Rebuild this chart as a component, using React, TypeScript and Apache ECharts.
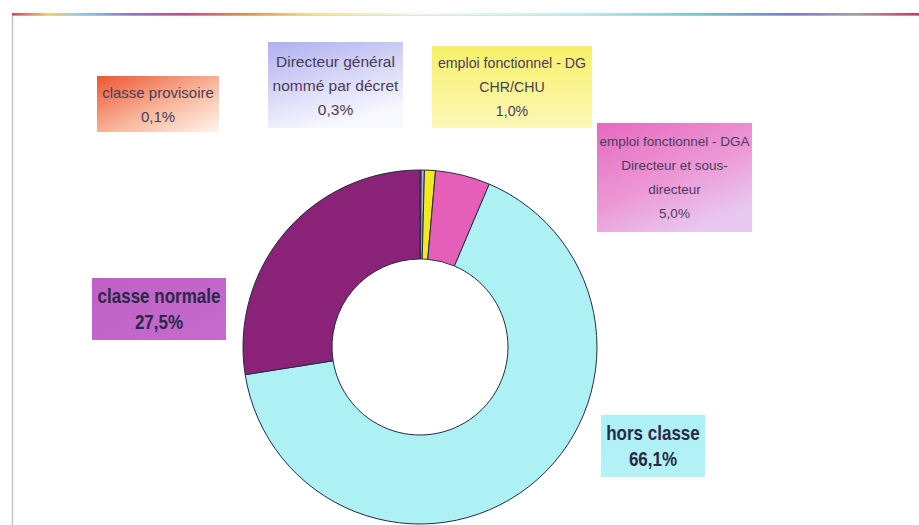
import React, { useEffect, useRef } from "react";
import * as echarts from "echarts";

const categories = [
  "classe provisoire",
  "Directeur général\nnommé par décret",
  "emploi fonctionnel - DG\nCHR/CHU",
  "emploi fonctionnel - DGA\nDirecteur et sous-\ndirecteur",
  "hors classe",
  "classe normale",
];
const values = [0.1, 0.3, 1.0, 5.0, 66.1, 27.5];
const sliceColors = ["#e8603c", "#a8a8ee", "#f2ea1e", "#e55fb8", "#aef1f4", "#8a2277"];

// label boxes layout: [x, y, w, h, bold, fontSize]
const boxLayout: [number, number, number, number, boolean, number][] = [
  [97, 76, 122, 56, false, 15],
  [268, 42, 135, 86, false, 15.5],
  [432, 46, 160, 82, false, 14.2],
  [597, 123, 155, 109, false, 13.5],
  [601, 415, 104, 62, true, 17],
  [92, 278, 134, 62, true, 17],
];
const boxFills = [
  { type: "linear", x: 0, y: 0, x2: 1, y2: 1, colorStops: [{ offset: 0, color: "#ee5532" }, { offset: 0.55, color: "#f8b89c" }, { offset: 1, color: "#fff4ee" }] },
  { type: "linear", x: 0, y: 0, x2: 0.4, y2: 1, colorStops: [{ offset: 0, color: "#aeb0f0" }, { offset: 0.6, color: "#dcdcf8" }, { offset: 1, color: "#f8f8ff" }] },
  { type: "linear", x: 0, y: 0, x2: 0, y2: 1, colorStops: [{ offset: 0, color: "#f7f068" }, { offset: 1, color: "#fcf8b8" }] },
  { type: "linear", x: 0, y: 0, x2: 0.6, y2: 1, colorStops: [{ offset: 0, color: "#e868c0" }, { offset: 0.6, color: "#ec9ad6" }, { offset: 1, color: "#e8c8f0" }] },
  { type: "linear", x: 0, y: 0, x2: 0, y2: 1, colorStops: [{ offset: 0, color: "#acf0f6" }, { offset: 1, color: "#b4f2f6" }] },
  { type: "linear", x: 0, y: 0, x2: 1, y2: 1, colorStops: [{ offset: 0, color: "#c060c6" }, { offset: 1, color: "#c46ccc" }] },
];

const fmt = (v: number) => v.toFixed(1).replace(".", ",") + "%";

export default function App() {
  const ref = useRef<HTMLDivElement>(null);
  useEffect(() => {
    if (!ref.current) return;
    const chart = echarts.init(ref.current, null, { renderer: "svg" });
    const graphics: any[] = [
      {
        type: "rect",
        shape: { x: 12.5, y: 15, width: 920, height: 520 },
        style: { fill: "#ffffff", stroke: "#c4c4c4", lineWidth: 1.5 },
        z: -10,
      },
      {
        type: "rect",
        shape: { x: 12, y: 13, width: 907, height: 2.5 },
        style: {
          fill: {
            type: "linear", x: 0, y: 0, x2: 1, y2: 0,
            colorStops: [
              { offset: 0, color: "#d84060" },
              { offset: 0.04, color: "#f0d070" },
              { offset: 0.08, color: "#88c8e8" },
              { offset: 0.13, color: "#8878c8" },
              { offset: 0.19, color: "#c84890" },
              { offset: 0.26, color: "#e89040" },
              { offset: 0.33, color: "#f0e090" },
              { offset: 0.45, color: "#f4f8f0" },
              { offset: 0.62, color: "#c0eeee" },
              { offset: 0.76, color: "#70c8c8" },
              { offset: 0.86, color: "#7878d8" },
              { offset: 0.93, color: "#a0a0a8" },
              { offset: 1, color: "#d83060" },
            ],
          },
        },
        z: -9,
      },
    ];
    categories.forEach((c, i) => {
      const [x, y, w, h, bold, fs] = boxLayout[i];
      const txt = c + "\n" + fmt(values[i]);
      graphics.push({
        type: "rect",
        shape: { x, y, width: w, height: h },
        style: { fill: boxFills[i] },
        z: 1,
      });
      graphics.push({
        type: "text",
        x: x + w / 2,
        y: y + h / 2,
        scaleY: bold ? 1.2 : 1,
        style: {
          text: txt,
          fill: bold ? "#2a2848" : "#4a3c58",
          font: (bold ? "bold " : "") + fs + "px 'Liberation Sans', Arial, sans-serif",
          lineHeight: bold ? 21 : 24,
          align: "center",
          verticalAlign: "middle",
        },
        z: 2,
      });
    });
    chart.setOption({
      animation: false,
      backgroundColor: "#ffffff",
      graphic: graphics,
      series: [
        {
          type: "pie",
          center: [420, 347],
          radius: [88, 177],
          startAngle: 90,
          clockwise: true,
          avoidLabelOverlap: false,
          label: { show: false },
          labelLine: { show: false },
          itemStyle: { borderColor: "#252a40", borderWidth: 1 },
          emphasis: { disabled: true },
          data: categories.map((c, i) => ({
            name: c,
            value: values[i],
            itemStyle: { color: sliceColors[i] },
          })),
          z: 3,
        },
      ],
    });
    return () => chart.dispose();
  }, []);
  return (
    <div
      ref={ref}
      style={{ position: "absolute", left: 0, top: 0, width: 919, height: 525 }}
    />
  );
}
